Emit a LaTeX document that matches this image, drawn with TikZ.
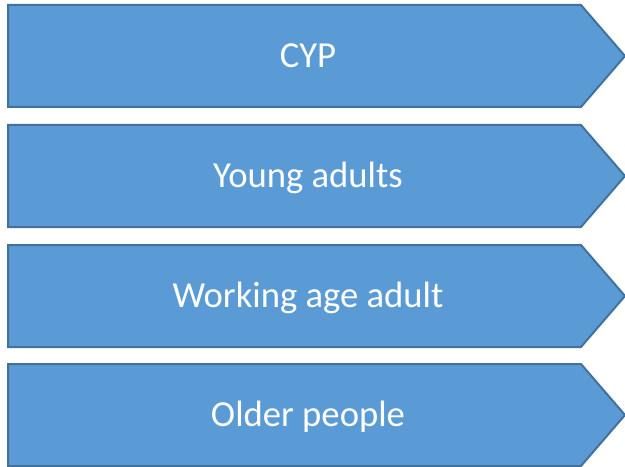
\documentclass[tikz,border=0pt]{standalone}
\usepackage{fontspec}
\setmainfont{Carlito}
\usepackage{xcolor}
\definecolor{chevfill}{RGB}{91,155,213}
\definecolor{chevline}{RGB}{65,113,156}

\begin{document}
\begin{tikzpicture}[x=0.75pt,y=0.75pt,yscale=-1,xscale=1]
\useasboundingbox (0,0) rectangle (625,467);

%Shape: Pentagon [id:cyp]
\draw [color=chevline, line width=1.5, fill=chevfill] (8,5) -- (581,5) -- (625,56) -- (581,107) -- (8,107) -- cycle ;
%Shape: Pentagon [id:young]
\draw [color=chevline, line width=1.5, fill=chevfill] (8,125) -- (581,125) -- (625,176) -- (581,227) -- (8,227) -- cycle ;
%Shape: Pentagon [id:working]
\draw [color=chevline, line width=1.5, fill=chevfill] (8,245) -- (581,245) -- (625,296) -- (581,347) -- (8,347) -- cycle ;
%Shape: Pentagon [id:older]
\draw [color=chevline, line width=1.5, fill=chevfill] (8,364) -- (581,364) -- (625,415) -- (581,466) -- (8,466) -- cycle ;

% Text Node
\draw (308,56) node [inner sep=0.75pt, text=white, font=\fontsize{27.5}{33}\selectfont] (cyp)  {CYP};
% Text Node
\draw (308,178) node [inner sep=0.75pt, text=white, font=\fontsize{27.5}{33}\selectfont] (young)  {Young adults};
% Text Node
\draw (308,298) node [inner sep=0.75pt, text=white, font=\fontsize{27.5}{33}\selectfont] (working)  {Working age adult};
% Text Node
\draw (308,417) node [inner sep=0.75pt, text=white, font=\fontsize{27.5}{33}\selectfont] (older)  {Older people};

\end{tikzpicture}
\end{document}
